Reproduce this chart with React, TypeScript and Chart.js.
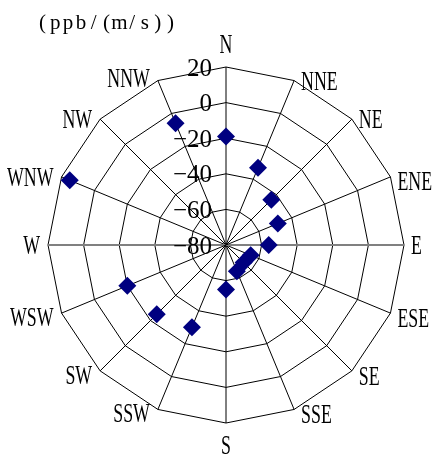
import React, { useEffect, useRef } from "react";
import { Chart, registerables } from "chart.js";

Chart.register(...registerables);

const TITLE = "(ppb/(m/s))";
const DIRECTIONS = ["N", "NNE", "NE", "ENE", "E", "ESE", "SE", "SSE", "S", "SSW", "SW", "WSW", "W", "WNW", "NW", "NNW"];
const VALUES: (number | null)[] = [-19, -33, -44, -48.5, -56, -65, -66, -64, -55, -30, -25, -20, null, 15, null, -6];
const TICK_VALUES = [-80, -60, -40, -20, 0, 20];
const TICK_LABELS = ["\u221280", "\u221260", "\u221240", "\u221220", "0", "20"];

const SERIF = "'Liberation Serif', 'DejaVu Serif', serif";

const textPlugin = {
  id: "customText",
  beforeDatasetsDraw(chart: any) {
    const ctx = chart.ctx;
    const scale = chart.scales.r;
    const cx = scale.xCenter;
    const cy = scale.yCenter;
    const R = scale.drawingArea;
    ctx.save();
    ctx.fillStyle = "#000";
    // tick labels
    ctx.font = `25px ${SERIF}`;
    ctx.textAlign = "right";
    ctx.textBaseline = "alphabetic";
    TICK_VALUES.forEach((v, i) => {
      const d = scale.getDistanceFromCenterForValue(v);
      ctx.fillText(TICK_LABELS[i], cx - 14, cy - d + 8.5);
    });
    // point labels (condensed)
    ctx.font = `27px ${SERIF}`;
    const n = DIRECTIONS.length;
    DIRECTIONS.forEach((lab, i) => {
      const p = scale.getPointPosition(i, R);
      let x = p.x;
      let y = p.y;
      let align: CanvasTextAlign = "center";
      if (i === 0) {
        y = p.y - 23;
      } else if (i === n / 2) {
        y = p.y + 22;
      } else if (i < n / 2) {
        align = "left";
        x = p.x + 7;
        if (i > 4) y = p.y + 5;
        else if (i === 3) y = p.y + 4;
      } else {
        align = "right";
        x = p.x - 8;
        if (i < 12) y = p.y + 4;
        else if (i === 15) y = p.y - 3;
      }
      ctx.save();
      ctx.translate(x, y + 9);
      ctx.scale(0.66, 1);
      ctx.textAlign = align;
      ctx.fillText(lab, 0, 0);
      ctx.restore();
    });
    // title, monospaced spacing
    ctx.font = `21px ${SERIF}`;
    ctx.textAlign = "center";
    for (let i = 0; i < TITLE.length; i++) {
      ctx.fillText(TITLE[i], 42.5 + i * 12.8, 29);
    }
    ctx.restore();
  },
};

export default function App() {
  const ref = useRef<HTMLCanvasElement>(null);
  useEffect(() => {
    if (!ref.current) return;
    const isEW = (c: any) => c.index === 4 || c.index === 12;
    const chart = new Chart(ref.current, {
      type: "radar",
      data: {
        labels: DIRECTIONS,
        datasets: [
          {
            data: VALUES,
            showLine: false,
            fill: false,
            pointStyle: "rectRot",
            pointRadius: 9,
            pointBorderWidth: 0,
            pointBackgroundColor: "#000080",
            pointBorderColor: "#000080",
            borderColor: "#000080",
          },
        ],
      },
      options: {
        responsive: false,
        animation: false,
        devicePixelRatio: 1,
        layout: { padding: { left: 48, right: 38, top: 67, bottom: 32 } },
        plugins: { legend: { display: false }, tooltip: { enabled: false }, title: { display: false } },
        scales: {
          r: {
            min: -80,
            max: 20,
            ticks: { stepSize: 20, display: false },
            pointLabels: { display: false },
            grid: { color: "#000", lineWidth: 1 },
            angleLines: {
              color: (c: any) => (isEW(c) ? "#808080" : "#000"),
              lineWidth: (c: any) => (isEW(c) ? 2 : 1),
            },
          },
        },
      },
      plugins: [textPlugin],
    });
    return () => chart.destroy();
  }, []);
  return (
    <div style={{ position: "absolute", left: 0, top: 0, width: 442, height: 455, background: "#fff" }}>
      <canvas ref={ref} width={442} height={455} />
    </div>
  );
}
